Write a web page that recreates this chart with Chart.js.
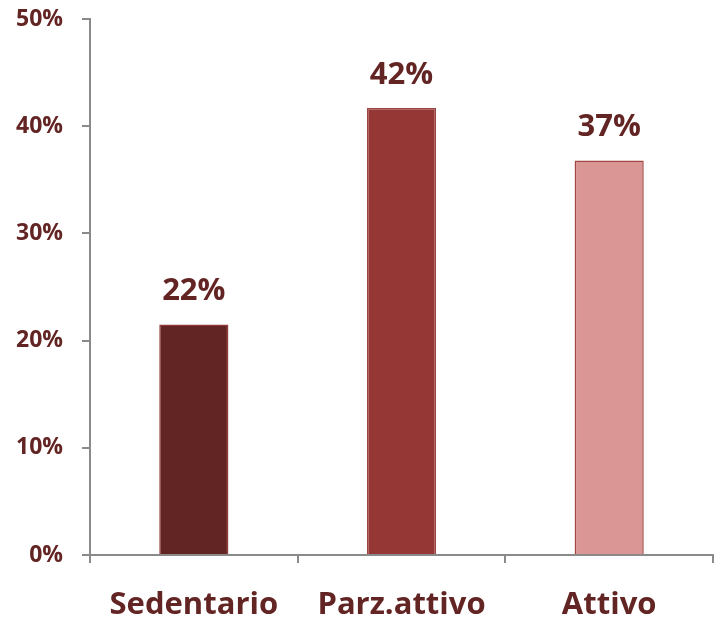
<!DOCTYPE html>
<html>
<head>
<meta charset="utf-8">
<script src="https://cdn.jsdelivr.net/npm/chart.js@4"></script>
<style>
  html, body { margin: 0; padding: 0; background: #fff; }
  #wrap { width: 714px; height: 617px; }
</style>
</head>
<body>
<div id="wrap"><canvas id="chart" width="714" height="617"></canvas></div>
<script>
const categories = ['Sedentario', 'Parz.attivo', 'Attivo'];
const values = [21.5, 41.7, 36.8];
const valueLabels = ['22%', '42%', '37%'];
const barColors = ['#632523', '#953735', '#D99694'];
const borderColors = ['#8f3a37', '#9c4643', '#a04744'];

const textColor = '#632523';
const fontFamily = '"Open Sans", Lato, sans-serif';

// etichette sopra le barre
const barLabels = {
    id: 'barLabels',
    afterDatasetsDraw(chart) {
        const ctx = chart.ctx;
        const meta = chart.getDatasetMeta(0);
        ctx.save();
        ctx.fillStyle = textColor;
        ctx.font = 'bold 31px ' + fontFamily;
        ctx.textAlign = 'center';
        ctx.textBaseline = 'middle';
        meta.data.forEach((bar, i) => {
            ctx.fillText(valueLabels[i], bar.x, bar.y - 33);
        });
        ctx.restore();
    }
};

const ctx = document.getElementById('chart').getContext('2d');
new Chart(ctx, {
    type: 'bar',
    data: {
        labels: categories,
        datasets: [{
            data: values,
            backgroundColor: barColors,
            borderColor: borderColors,
            borderWidth: 1.5,
            barPercentage: 1,
            categoryPercentage: 0.333
        }]
    },
    options: {
        responsive: false,
        animation: false,
        layout: { padding: { top: 19, right: 1, left: 0, bottom: 0 } },
        plugins: {
            legend: { display: false },
            tooltip: { enabled: false }
        },
        scales: {
            x: {
                offset: true,
                grid: {
                    offset: true,
                    drawOnChartArea: false,
                    color: '#8a8a8a',
                    lineWidth: 2,
                    tickLength: 8
                },
                border: { color: '#8a8a8a', width: 2 },
                ticks: {
                    color: textColor,
                    font: { family: fontFamily, size: 31, weight: 'bold' },
                    padding: 24
                },
                afterFit(scale) { scale.height = 62; }
            },
            y: {
                min: 0,
                max: 50,
                grid: {
                    drawOnChartArea: false,
                    color: '#8a8a8a',
                    lineWidth: 2,
                    tickLength: 8
                },
                border: { color: '#8a8a8a', width: 2 },
                ticks: {
                    stepSize: 10,
                    color: textColor,
                    font: { family: fontFamily, size: 23, weight: 'bold' },
                    padding: 19,
                    callback: v => v + '%'
                },
                afterFit(scale) {
                    scale.width = 90;
                    scale.paddingTop = 0;
                    scale.paddingBottom = 0;
                }
            }
        }
    },
    plugins: [barLabels]
});
</script>
</body>
</html>
